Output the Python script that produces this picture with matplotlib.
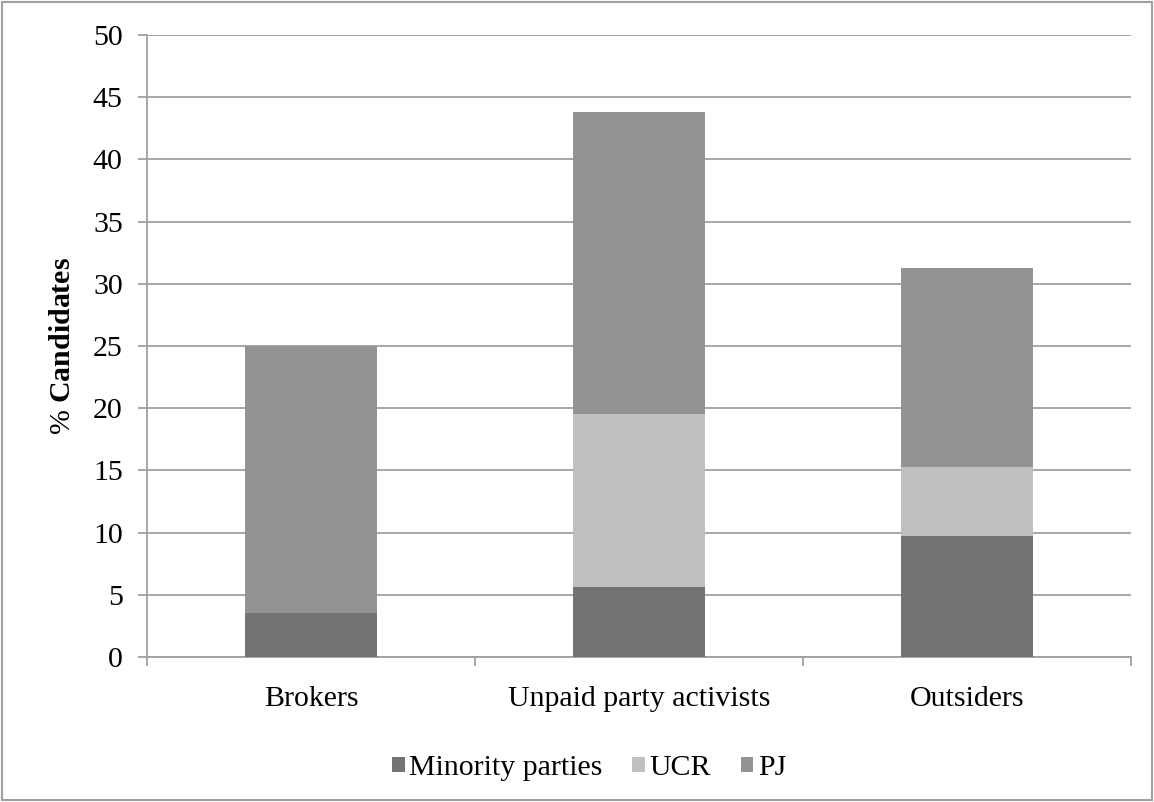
import matplotlib.pyplot as plt
import numpy as np
from matplotlib.patches import Rectangle

plt.rcParams['font.family'] = ['Liberation Serif', 'DejaVu Serif']
plt.rcParams['mathtext.fontset'] = 'custom'
plt.rcParams['mathtext.rm'] = 'Liberation Serif'
plt.rcParams['mathtext.bf'] = 'Liberation Serif:bold'

categories = ["Brokers", "Unpaid party activists", "Outsiders"]
minority = [3.5, 5.6, 9.7]
ucr = [0.0, 13.9, 5.6]
pj = [21.5, 24.3, 16.0]
series_names = ["Minority parties", "UCR", "PJ"]
colors = ["#737373", "#c0c0c0", "#939393"]
grid_col = "#a0a0a0"
fs = 21.5

fig = plt.figure(figsize=(11.54, 8.02), dpi=100)
ax = fig.add_axes([147 / 1154, 1 - 657 / 802, 984 / 1154, 622 / 802])

x = np.arange(len(categories))
bottom = np.zeros(len(categories))
for vals, name, col in zip([minority, ucr, pj], series_names, colors):
    ax.bar(x, vals, 0.4, bottom=bottom, color=col, label=name, zorder=3)
    bottom += np.array(vals)

ax.set_xlim(-0.5, 2.5)
ax.set_ylim(0, 50)
ax.set_yticks(range(0, 51, 5))
ax.yaxis.grid(True, color=grid_col, linewidth=1.3, zorder=0)
ax.set_axisbelow(True)

ax.set_xticks(x)
ax.set_xticklabels(categories)
ax.set_xticks([-0.5, 0.5, 1.5, 2.5], minor=True)
ax.tick_params(axis='x', which='major', length=0, pad=21, labelsize=fs)
ax.tick_params(axis='x', which='minor', length=6.5, color=grid_col, width=1.3)
ax.tick_params(axis='y', length=6.5, color=grid_col, width=1.3, labelsize=fs, pad=11)

for s in ['top', 'right']:
    ax.spines[s].set_visible(False)
for s in ['left', 'bottom']:
    ax.spines[s].set_color(grid_col)
    ax.spines[s].set_linewidth(1.3)

ax.set_ylabel(r'% $\mathbf{Candidates}$', fontsize=fs, labelpad=12)

leg = fig.legend(loc='center', bbox_to_anchor=(589 / 1154, 1 - 768 / 802), ncol=3,
                 frameon=False, fontsize=fs, handlelength=0.42, handleheight=0.42,
                 handletextpad=0.15, columnspacing=1.0)

fig.patches.append(Rectangle((0.002, 0.002), 0.996, 0.996, transform=fig.transFigure,
                             fill=False, edgecolor=grid_col, linewidth=1.5))

fig.savefig("out.png", dpi=100)
